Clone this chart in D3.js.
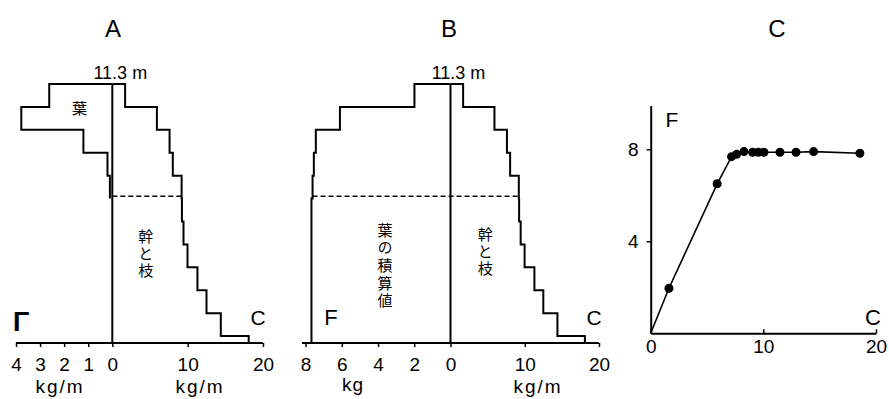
<!DOCTYPE html>
<html>
<head>
<meta charset="utf-8">
<script src="https://cdn.jsdelivr.net/npm/d3@7"></script>
<style>
  body { margin: 0; background: #fff; }
  text { font-family: "Liberation Sans", Arial, sans-serif; fill: #000; }
  .cjk { font-family: "Noto Sans CJK JP", sans-serif; }
</style>
</head>
<body>
<div id="chart"></div>
<script>
// layer boundaries (m), bottom -> top
var layerBounds = [0, 0.3, 1.3, 2.3, 3.3, 4.3, 5.3, 6.3, 7.3, 8.3, 9.3, 10.3, 11.3];
// trunk + branch weight per layer (kg/m), bottom -> top
var trunk = [18.1, 14.4, 12.5, 11.3, 9.98, 9.45, 9.24, 9.2, 8.03, 7.6, 5.92, 1.7];
// leaf weight per layer (kg/m), bottom -> top
var leaf = [0, 0, 0, 0, 0, 0, 0, 0.1, 0.2, 1.2, 3.78, 2.62];
// cumulative leaf weight from the top (kg), bottom -> top
var leafCum = [7.67, 7.67, 7.67, 7.67, 7.67, 7.67, 7.67, 7.61, 7.54, 7.43, 6.1, 1.99];
var crownBase = 6.4;
var treeHeight = 11.3;

// panel C: trunk weight (C) vs cumulative leaf (F)
var cValues = [1.62, 5.9, 7.18, 7.63, 8.28, 9.05, 9.55, 10.05, 11.47, 12.9, 14.46, 18.57];
var fValues = [1.96, 6.5, 7.68, 7.78, 7.9, 7.87, 7.87, 7.87, 7.87, 7.87, 7.9, 7.83];

var leafTicksA = [4, 3, 2, 1, 0];
var leafTicksB = [8, 6, 4, 2, 0];
var trunkTicks = [10, 20];
var cTicksX = [0, 10, 20];
var cTicksY = [4, 8];

var width = 889, height = 399;
var svg = d3.select("#chart").append("svg")
    .attr("width", width)
    .attr("height", height);

var baseY = 343;
var y = d3.scaleLinear().domain([0, treeHeight]).range([baseY, 84]);

// step outline of a profile, drawn from the top down
function stepPoints(values, xs, fromIdx) {
    var pts = [[xs(0), y(layerBounds[layerBounds.length - 1])]];
    for (var i = values.length - 1; i >= fromIdx; i--) {
        pts.push([xs(values[i]), y(layerBounds[i + 1])]);
        pts.push([xs(values[i]), y(layerBounds[i])]);
    }
    return pts;
}

function drawProfile(opt) {
    var g = svg.append("g");
    var xl = opt.leftScale, xr = opt.rightScale;

    // baseline axes
    g.append("line")
        .attr("x1", xl(opt.leftMax)).attr("x2", xr(20))
        .attr("y1", baseY).attr("y2", baseY)
        .attr("stroke", "#000").attr("stroke-width", 2);

    var axL = g.append("g").attr("transform", "translate(0," + baseY + ")")
        .call(d3.axisBottom(xl).tickValues(opt.leftTicks).tickFormat(d3.format("d"))
            .tickSize(4).tickSizeOuter(0));
    var axR = g.append("g").attr("transform", "translate(0," + baseY + ")")
        .call(d3.axisBottom(xr).tickValues(trunkTicks).tickFormat(d3.format("d"))
            .tickSize(4).tickSizeOuter(0));
    [axL, axR].forEach(function(ax) {
        ax.select(".domain").remove();
        ax.selectAll("line").attr("stroke-width", 1.5);
        ax.selectAll("text")
            .attr("dy", null).attr("y", 28)
            .style("font-size", "19px")
            .style("font-family", "'Liberation Sans', Arial, sans-serif");
    });

    // zero line (tree stem)
    g.append("line")
        .attr("x1", xr(0)).attr("x2", xr(0))
        .attr("y1", y(treeHeight)).attr("y2", baseY)
        .attr("stroke", "#000").attr("stroke-width", 2);

    var line = d3.line();
    // trunk & branches (right)
    g.append("path")
        .attr("d", line(stepPoints(trunk, xr, 0)))
        .attr("fill", "none").attr("stroke", "#000").attr("stroke-width", 2);
    // leaves (left)
    var leafIdx = opt.leafValues.findIndex(function(v) { return v > 0; });
    g.append("path")
        .attr("d", line(stepPoints(opt.leafValues, xl, leafIdx)))
        .attr("fill", "none").attr("stroke", "#000").attr("stroke-width", 2);

    // crown base (dashed)
    g.append("line")
        .attr("x1", opt.dashFrom).attr("x2", xr(trunk[7]))
        .attr("y1", y(crownBase)).attr("y2", y(crownBase))
        .attr("stroke", "#000").attr("stroke-width", 1.5)
        .attr("stroke-dasharray", "5,3");

    g.append("text").attr("x", opt.titleX).attr("y", 37)
        .attr("text-anchor", "middle").style("font-size", "24px").text(opt.title);
    g.append("text").attr("x", xr(0) + 8).attr("y", 79)
        .attr("text-anchor", "middle").style("font-size", "18px").text("11.3 m");

    g.append("text").attr("x", xr(20) - 5).attr("y", 325)
        .attr("text-anchor", "middle").style("font-size", "21px").text("C");

    // vertical japanese label, one text element
    function vertical(chars, x, yTop, step) {
        g.append("text").attr("class", "cjk")
            .attr("x", x).attr("y", yTop)
            .style("writing-mode", "vertical-rl")
            .style("letter-spacing", (step - 15) + "px")
            .style("font-size", "15px").text(chars);
    }
    return {g: g, vertical: vertical};
}

// ---- panel A
var xlA = d3.scaleLinear().domain([0, 4]).range([112.3, 16]);
var xrA = d3.scaleLinear().domain([0, 20]).range([112.3, 263]);
var pA = drawProfile({
    leftScale: xlA, rightScale: xrA, leftMax: 4, leftTicks: leafTicksA,
    leafValues: leaf, dashFrom: xrA(0), title: "A", titleX: 113
});
pA.vertical("葉", 79.5, 100.5, 17);
pA.vertical("幹と枝", 145.7, 228.5, 17.2);
pA.g.append("text").attr("x", 21).attr("y", 331).attr("text-anchor", "middle")
    .style("font-size", "27px").style("font-weight", "bold").text("Γ");
pA.g.append("text").attr("x", 60).attr("y", 393).attr("text-anchor", "middle")
    .style("font-size", "19px").style("letter-spacing", "2px").text("kg/m");
pA.g.append("text").attr("x", 200).attr("y", 393).attr("text-anchor", "middle")
    .style("font-size", "19px").style("letter-spacing", "2px").text("kg/m");

// ---- panel B
var xlB = d3.scaleLinear().domain([0, 8]).range([450.5, 305.5]);
var xrB = d3.scaleLinear().domain([0, 20]).range([450.5, 599]);
var pB = drawProfile({
    leftScale: xlB, rightScale: xrB, leftMax: 8.2, leftTicks: leafTicksB,
    leafValues: leafCum, dashFrom: xlB(leafCum[7]), title: "B", titleX: 449
});
pB.vertical("葉の積算値", 385, 222.5, 17.7);
pB.vertical("幹と枝", 485.3, 226.5, 17);
pB.g.append("text").attr("x", 331).attr("y", 325).attr("text-anchor", "middle")
    .style("font-size", "22px").text("F");
pB.g.append("text").attr("x", 353).attr("y", 391).attr("text-anchor", "middle")
    .style("font-size", "19px").style("letter-spacing", "1px").text("kg");
pB.g.append("text").attr("x", 538).attr("y", 393).attr("text-anchor", "middle")
    .style("font-size", "19px").style("letter-spacing", "2px").text("kg/m");

// ---- panel C
var xC = d3.scaleLinear().domain([0, 20]).range([650.7, 876]);
var yC = d3.scaleLinear().domain([0, 9.9]).range([333.3, 105.6]);
var gC = svg.append("g");

var axX = gC.append("g").attr("transform", "translate(0," + yC(0) + ")")
    .call(d3.axisBottom(xC).tickValues(cTicksX).tickSize(-4).tickSizeOuter(0));
var axY = gC.append("g").attr("transform", "translate(" + xC(0) + ",0)")
    .call(d3.axisLeft(yC).tickValues(cTicksY).tickSize(4).tickSizeOuter(0));
[axX, axY].forEach(function(ax) {
    ax.select(".domain").attr("stroke-width", 2);
    ax.selectAll("line").attr("stroke-width", 1.5);
    ax.selectAll("text").style("font-size", "19px")
        .style("font-family", "'Liberation Sans', Arial, sans-serif");
});
axX.selectAll("text").attr("dy", null).attr("y", 20);
axY.selectAll("text").attr("x", -12);

var pts = [[0, 0]].concat(cValues.map(function(c, i) { return [c, fValues[i]]; }));
gC.append("path")
    .attr("d", d3.line().x(function(d) { return xC(d[0]); }).y(function(d) { return yC(d[1]); })(pts))
    .attr("fill", "none").attr("stroke", "#000").attr("stroke-width", 1.6);
gC.selectAll("circle").data(pts.slice(1)).enter().append("circle")
    .attr("cx", function(d) { return xC(d[0]); })
    .attr("cy", function(d) { return yC(d[1]); })
    .attr("r", 4.5).attr("fill", "#000");

gC.append("text").attr("x", 777).attr("y", 37).attr("text-anchor", "middle")
    .style("font-size", "24px").text("C");
gC.append("text").attr("x", 672).attr("y", 127).attr("text-anchor", "middle")
    .style("font-size", "21px").text("F");
gC.append("text").attr("x", 873).attr("y", 325).attr("text-anchor", "middle")
    .style("font-size", "22px").text("C");
</script>
</body>
</html>
